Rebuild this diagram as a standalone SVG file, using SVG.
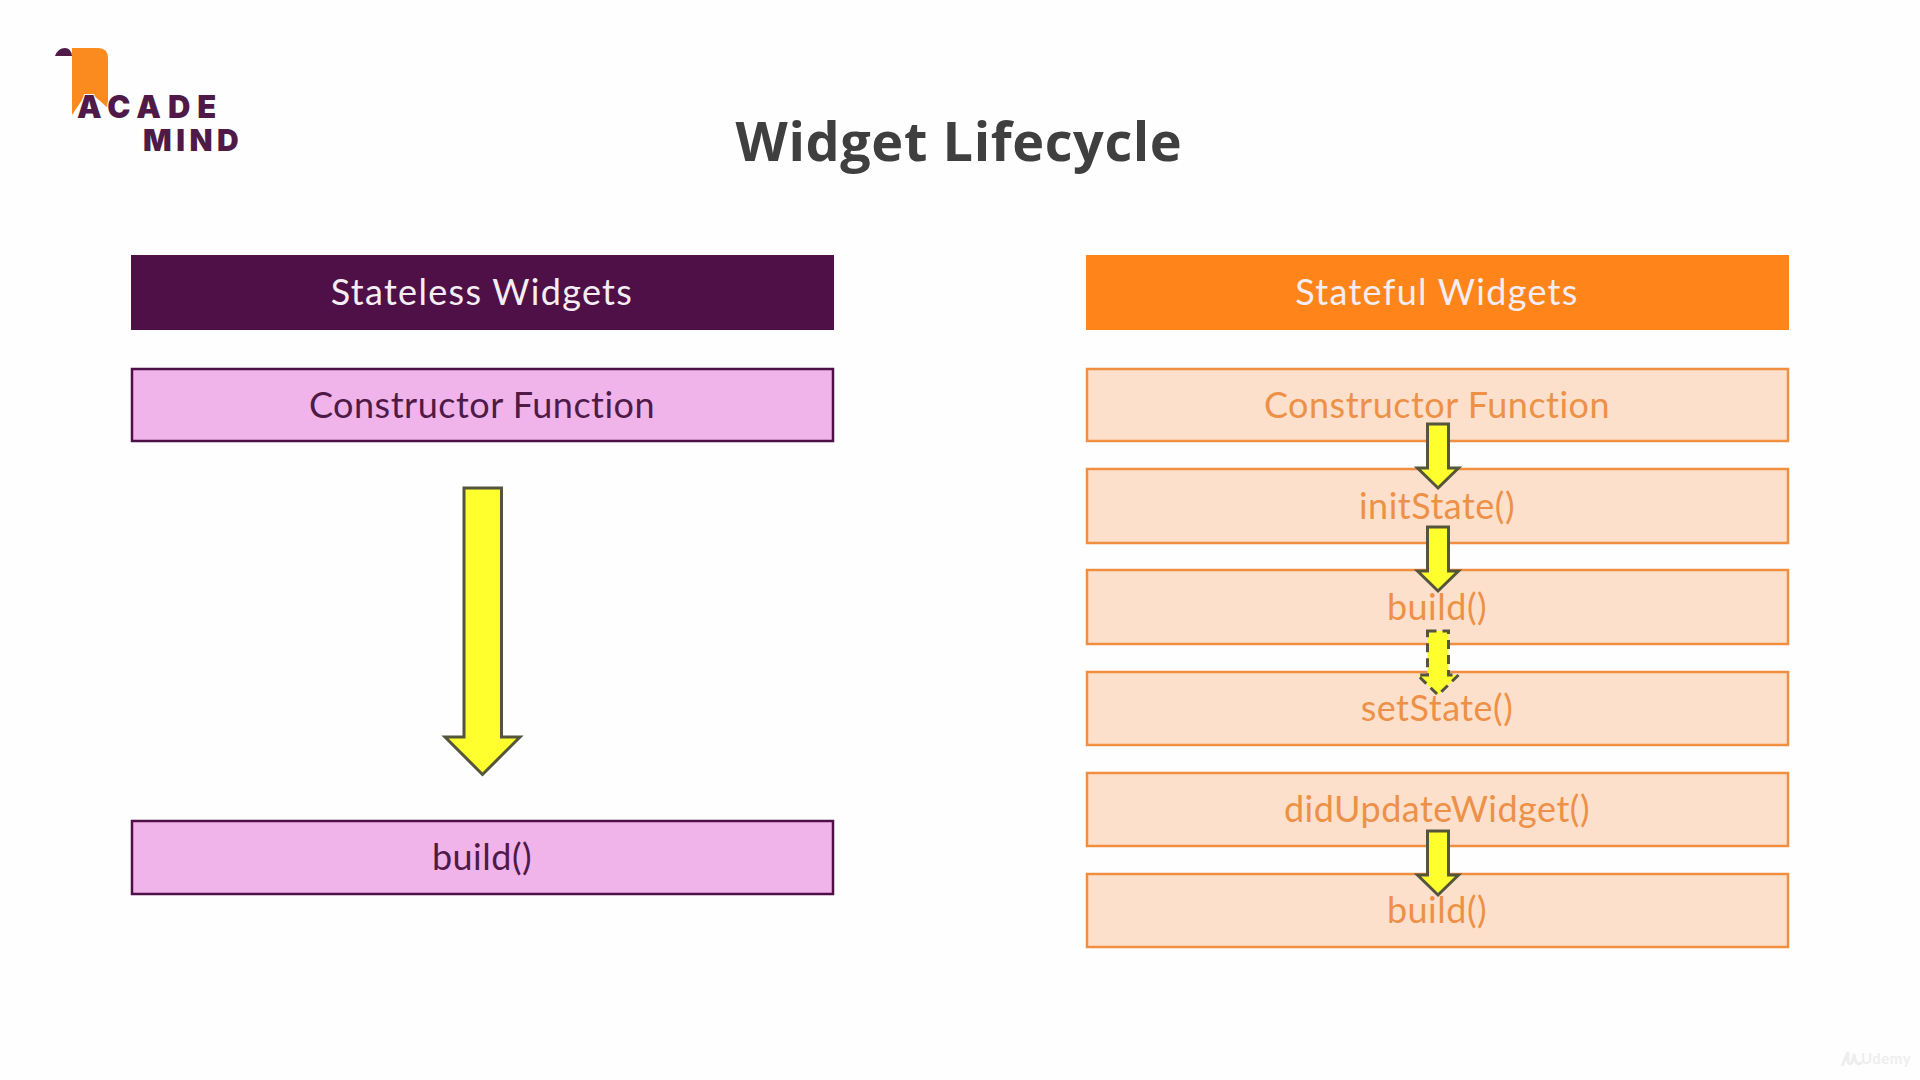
<svg xmlns="http://www.w3.org/2000/svg" width="1920" height="1080" viewBox="0 0 1920 1080">
<defs>
<style>
text{font-family:"Lato","Noto Sans",sans-serif;text-anchor:middle;font-size:36px;letter-spacing:.5px}
.head{fill:#f4eef4;letter-spacing:1.300px}
.l rect{fill:#f1b4ea;stroke:#4f0f47;stroke-width:2.5}
.l text{fill:#4f1a48}
.r rect{fill:#fde0cb;stroke:#f08f40;stroke-width:2.5}
.r text{fill:#ee9148}
.arrow{fill:#ffff2e;stroke:#55553c;stroke-width:3;stroke-linejoin:miter}
.logo{font-family:"Inter","Lato",sans-serif;font-weight:900;font-size:30px;fill:#4f1a48;text-anchor:start}
</style>
<path id="small" d="M-10.500 0H10.500V44H20.500L0 64L-20.500 44H-10.500Z"/>
</defs>
<rect width="1920" height="1080" fill="#fefefe"/>
<g id="logo">
<path d="M72 48H98Q108 48 108 58V108L92 94H86L72 115Z" fill="#fb8a1f"/>
<path d="M55 56Q58 48 65 48Q71 48 72 56Z" fill="#4f1a48"/>
<text class="logo" x="77" y="118" style="letter-spacing:7px;font-size:31px" stroke="#fff" stroke-width="2" paint-order="stroke">ACADE</text>
<text class="logo" x="143" y="151" style="letter-spacing:4.500px" stroke="#fff" stroke-width="1" paint-order="stroke">MIND</text>
</g>
<text id="title" x="959" y="161" style="font-family:'Open Sans','Noto Sans',sans-serif;font-weight:700;font-size:54px;letter-spacing:.6px" fill="#3f3f3f">Widget Lifecycle</text>
<g id="stateless-header"><rect x="131" y="255" width="703" height="75" fill="#4f0f47"/><text x="482" y="305" class="head">Stateless Widgets</text></g>
<g id="stateless-constructor" class="l"><rect x="132" y="369" width="701" height="72"/><text x="482" y="418">Constructor Function</text></g>
<g id="stateless-build" class="l"><rect x="132" y="821" width="701" height="73"/><text x="482" y="870">build()</text></g>
<g id="stateful-header"><rect x="1086" y="255" width="703" height="75" fill="#ff851b"/><text x="1437" y="305" class="head">Stateful Widgets</text></g>
<g id="stateful-constructor" class="r"><rect x="1087" y="369" width="701" height="72"/><text x="1437" y="418">Constructor Function</text></g>
<g id="stateful-initstate" class="r"><rect x="1087" y="469" width="701" height="74"/><text x="1437" y="519">initState()</text></g>
<g id="stateful-build" class="r"><rect x="1087" y="570" width="701" height="74"/><text x="1437" y="620">build()</text></g>
<g id="stateful-setstate" class="r"><rect x="1087" y="672" width="701" height="73"/><text x="1437" y="721">setState()</text></g>
<g id="stateful-didupdate" class="r"><rect x="1087" y="773" width="701" height="73"/><text x="1437" y="822">didUpdateWidget()</text></g>
<g id="stateful-build2" class="r"><rect x="1087" y="874" width="701" height="73"/><text x="1437" y="923">build()</text></g>
<g id="connectors">
<path class="arrow" d="M464 488H501.500V737H520L482.500 774.500L445 737H464Z"/>
<use href="#small" class="arrow" x="1438" y="424"/>
<use href="#small" class="arrow" x="1438" y="527"/>
<use href="#small" class="arrow" x="1438" y="631" stroke-dasharray="9 6"/>
<use href="#small" class="arrow" x="1438" y="831"/>
</g>
<g id="watermark"><text x="1886" y="1064" style="font-size:15px;font-weight:700" fill="#eeeeee">Udemy</text>
<path d="M1842 1066L1848 1052V1062Q1852 1068 1854 1054Q1856 1068 1862 1062" fill="none" stroke="#eeeeee" stroke-width="3"/></g>
</svg>
